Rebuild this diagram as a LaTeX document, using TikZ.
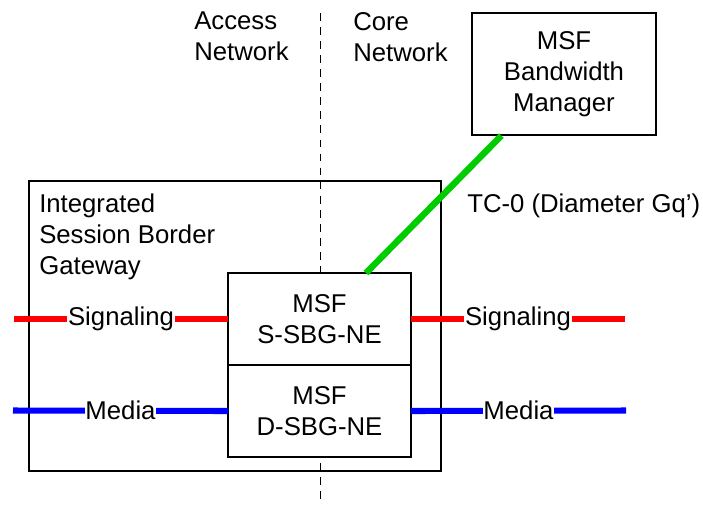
\documentclass[tikz,border=0pt]{standalone}
\usepackage{fontspec}
\setmainfont{Liberation Sans}
\usetikzlibrary{positioning}
\definecolor{sigred}{RGB}{255,0,0}
\definecolor{medblue}{RGB}{0,0,255}
\definecolor{tcgreen}{RGB}{0,204,0}
\tikzstyle{outerbox} = [rectangle, minimum width=10.3cm, minimum height=7.25cm, inner sep=0pt, draw=black, line width=0.9pt]
\tikzstyle{sbg} = [rectangle, minimum width=4.575cm, minimum height=2.3cm, inner sep=0pt, outer sep=0pt, align=center, draw=black, fill=white, line width=0.9pt]
\tikzstyle{bwm} = [rectangle, minimum width=4.6cm, minimum height=3.05cm, inner sep=0pt, align=center, draw=black, fill=white, line width=0.9pt]
\tikzstyle{plain} = [inner sep=0pt, align=left]
\tikzstyle{linklabel} = [midway, fill=white, text=black, inner sep=0.5pt]
\tikzstyle{sigline} = [line width=4.3pt, draw=sigred]
\tikzstyle{medline} = [line width=4.3pt, draw=medblue]
\tikzstyle{border} = [line width=0.7pt, dash pattern=on 5.5pt off 4.5pt]

\begin{document}
\begin{tikzpicture}[font=\fontsize{18.3pt}{22pt}\selectfont]
    \useasboundingbox (0,0) rectangle (17.575,-12.6);

    % access / core split
    \coordinate (border-top) at (8.0,-0.325);
    \coordinate (border-bot) at (8.0,-12.6);
    \draw [border] (border-top) -- (border-bot);

    \node (access) [plain, anchor=north west] at (4.85,-0.3) {Access\\Network};
    \node (core) [plain, anchor=north west] at (8.825,-0.3) {Core\\Network};

    \node (manager) [bwm] at (14.1,-1.85) {MSF\\Bandwidth\\Manager};

    \node (isbg) [outerbox] at (5.875,-8.15) {};
    \node (isbg-text) [plain, anchor=north west] at (0.975,-4.85) {Integrated\\Session Border\\Gateway};

    \node (ssbg) [sbg] at (7.9875,-7.975) {MSF\\S-SBG-NE};
    \node (dsbg) [sbg, below=0cm of ssbg] {MSF\\D-SBG-NE};

    \node (tc0) [plain, anchor=west] at (11.675,-5.15) {TC-0 (Diameter Gq')};

    \draw [line width=4.6pt, tcgreen] ([xshift=0.75cm]manager.south west) -- ([xshift=3.45cm]ssbg.north west);

    \coordinate (sig-l) at (0.35,-7.975);
    \coordinate (sig-r) at (15.625,-7.975);
    \coordinate (med-l) at (0.325,-10.2625);
    \coordinate (med-r) at (15.65,-10.2625);

    \draw [sigline] (sig-l) -- (ssbg.west) node [linklabel] {Signaling};
    \draw [sigline] (ssbg.east) -- (sig-r) node [linklabel] {Signaling};
    \draw [medline] (med-l) -- (dsbg.west) node [linklabel] {Media};
    \draw [medline] (dsbg.east) -- (med-r) node [linklabel] {Media};
\end{tikzpicture}
\end{document}
